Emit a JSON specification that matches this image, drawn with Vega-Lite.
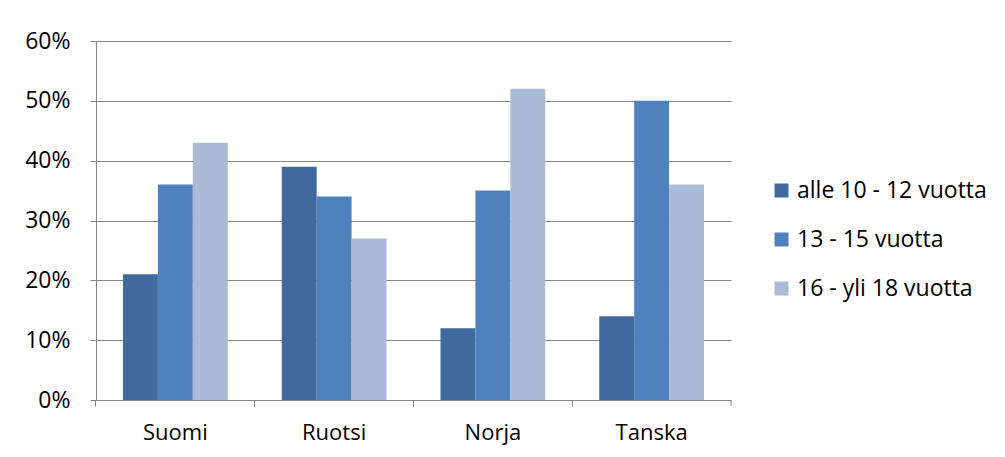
{
  "$schema": "https://vega.github.io/schema/vega-lite/v6.json",
  "width": 635,
  "height": 359,
  "autosize": {"type": "none"},
  "padding": {"left": 96, "top": 41, "right": 274, "bottom": 57},
  "background": "white",
  "config": {
    "view": {"stroke": null},
    "font": "Open Sans"
  },
  "data": {
    "values": [
      {"maa": "Suomi", "ika": "alle 10 - 12 vuotta", "osuus": 0.21},
      {"maa": "Suomi", "ika": "13 - 15 vuotta", "osuus": 0.36},
      {"maa": "Suomi", "ika": "16 - yli 18 vuotta", "osuus": 0.43},
      {"maa": "Ruotsi", "ika": "alle 10 - 12 vuotta", "osuus": 0.39},
      {"maa": "Ruotsi", "ika": "13 - 15 vuotta", "osuus": 0.34},
      {"maa": "Ruotsi", "ika": "16 - yli 18 vuotta", "osuus": 0.27},
      {"maa": "Norja", "ika": "alle 10 - 12 vuotta", "osuus": 0.12},
      {"maa": "Norja", "ika": "13 - 15 vuotta", "osuus": 0.35},
      {"maa": "Norja", "ika": "16 - yli 18 vuotta", "osuus": 0.52},
      {"maa": "Tanska", "ika": "alle 10 - 12 vuotta", "osuus": 0.14},
      {"maa": "Tanska", "ika": "13 - 15 vuotta", "osuus": 0.50},
      {"maa": "Tanska", "ika": "16 - yli 18 vuotta", "osuus": 0.36}
    ]
  },
  "layer": [
    {
      "mark": {"type": "bar"},
      "encoding": {
        "x": {
          "field": "maa",
          "type": "nominal",
          "sort": ["Suomi", "Ruotsi", "Norja", "Tanska"],
          "scale": {"paddingInner": 0.34, "paddingOuter": 0.17},
          "axis": {
            "title": null,
            "labelAngle": 0,
            "labelFontSize": 22,
            "labelColor": "#000000",
            "labelPadding": 16,
            "domainColor": "#868686",
            "tickColor": "#868686",
            "tickSize": 6,
            "bandPosition": -0.2576,
            "grid": false
          }
        },
        "xOffset": {
          "field": "ika",
          "type": "nominal",
          "sort": ["alle 10 - 12 vuotta", "13 - 15 vuotta", "16 - yli 18 vuotta"],
          "scale": {"paddingInner": 0, "paddingOuter": 0}
        },
        "y": {
          "field": "osuus",
          "type": "quantitative",
          "scale": {"domain": [0, 0.6]},
          "axis": {
            "title": null,
            "format": ".0%",
            "values": [0, 0.1, 0.2, 0.3, 0.4, 0.5, 0.6],
            "labelFontSize": 23,
            "labelColor": "#000000",
            "labelPadding": 20,
            "domainColor": "#868686",
            "tickColor": "#868686",
            "tickSize": 6,
            "gridColor": "#868686",
            "grid": true
          }
        },
        "color": {
          "field": "ika",
          "type": "nominal",
          "sort": ["alle 10 - 12 vuotta", "13 - 15 vuotta", "16 - yli 18 vuotta"],
          "scale": {
            "domain": ["alle 10 - 12 vuotta", "13 - 15 vuotta", "16 - yli 18 vuotta"],
            "range": ["#406A9D", "#4F81BD", "#AABAD7"]
          },
          "legend": {
            "title": null,
            "orient": "none",
            "legendX": 674,
            "legendY": 138,
            "symbolType": "square",
            "symbolSize": 196,
            "symbolStrokeWidth": 0,
            "labelFontSize": 23,
            "labelColor": "#000000",
            "labelLimit": 300,
            "rowPadding": 25,
            "labelOffset": 4
          }
        }
      }
    },
    {
      "transform": [{"filter": "datum.maa === 'Tanska' && datum.ika === '13 - 15 vuotta'"}],
      "mark": {"type": "rule", "color": "#868686", "strokeWidth": 1},
      "encoding": {
        "x": {"field": "maa", "type": "nominal", "sort": ["Suomi", "Ruotsi", "Norja", "Tanska"], "bandPosition": 1.2576},
        "y": {"datum": 0},
        "y2": {"datum": -0.01}
      }
    }
  ]
}
